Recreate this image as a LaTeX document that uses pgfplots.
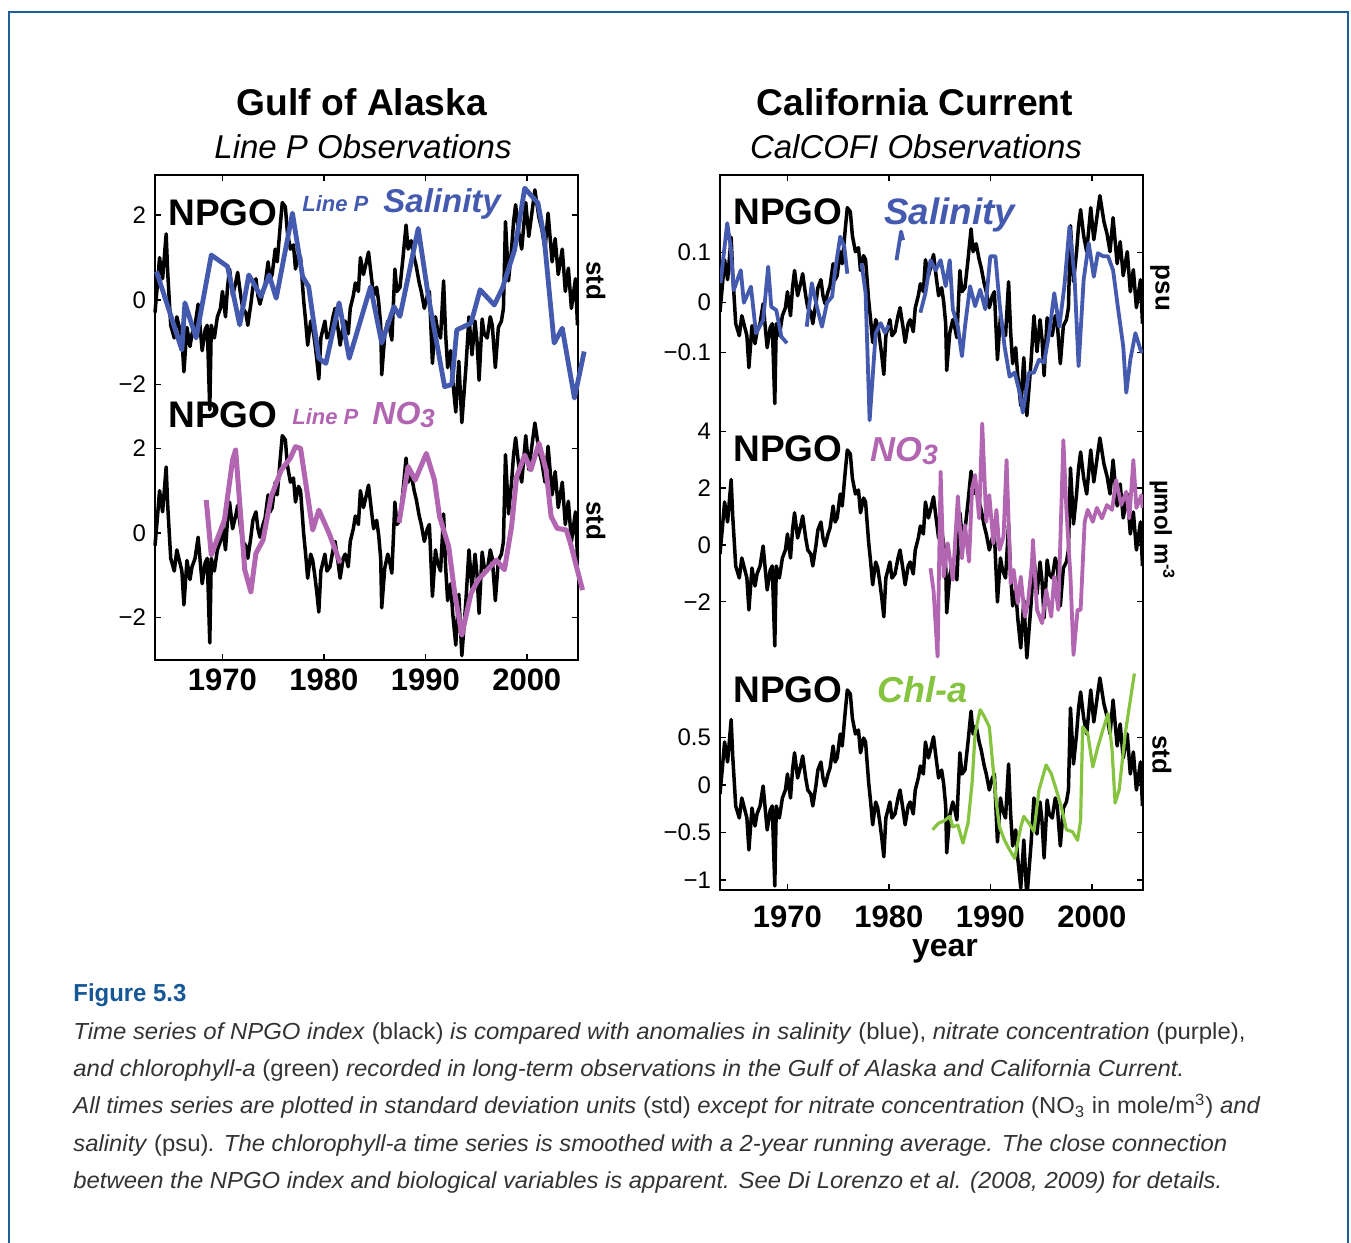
\documentclass[border=0pt]{standalone}
\usepackage{pgfplots}
\usepackage{pgfplotstable}
\usepackage{graphicx}
\usepackage{fontspec}
\setmainfont{Liberation Sans}
\pgfplotsset{compat=1.18}
\definecolor{salblue}{RGB}{68,90,175}
\definecolor{nopink}{RGB}{178,102,178}
\definecolor{chlgreen}{RGB}{134,196,64}
\definecolor{frameblue}{RGB}{30,95,155}
\definecolor{figblue}{RGB}{22,88,150}
\definecolor{capgray}{RGB}{51,51,51}
\newcommand\pp[2]{({(#1)*0.5pt},{(1243-(#2))*0.5pt})}
\newcommand\fs[1]{\fontsize{#1}{#1}\selectfont}

\pgfplotstableread{
x y
1963.35 -0.3
1963.6 0.4
1963.8 1.0
1964.1 0.5
1964.45 1.56
1964.6 0.66
1964.9 -0.6
1965.25 -0.9
1965.5 -0.4
1965.7 -0.6
1966.0 -0.9
1966.2 -1.7
1966.5 -0.65
1966.8 -1.1
1967.0 -0.8
1967.3 -0.6
1967.6 -0.1
1968.0 -1.2
1968.3 -0.7
1968.5 -0.6
1968.75 -2.6
1968.9 -0.6
1969.2 -0.9
1969.5 -0.4
1969.8 -0.2
1970.0 0.2
1970.3 -0.4
1970.5 0.3
1970.7 0.73
1971.0 0.1
1971.3 0.4
1971.5 0.65
1971.8 0.1
1972.0 -0.2
1972.3 -0.3
1972.5 -0.6
1972.8 -0.1
1973.0 0.3
1973.3 0.5
1973.5 0.1
1973.7 -0.1
1974.0 0.2
1974.2 0.35
1974.5 0.9
1974.7 0.5
1974.9 0.6
1975.2 1.2
1975.4 0.9
1975.7 1.77
1975.9 2.3
1976.2 2.2
1976.4 1.6
1976.7 1.2
1977.0 1.3
1977.2 0.73
1977.5 1.1
1977.7 1.0
1978.0 0.0
1978.2 -0.5
1978.4 -1.07
1978.7 -0.5
1978.9 -0.65
1979.1 -1.0
1979.3 -1.4
1979.5 -1.87
1979.7 -0.9
1980.1 -0.5
1980.3 -0.9
1980.6 -0.8
1980.9 -0.4
1981.1 -0.2
1981.4 -0.7
1981.6 -1.07
1981.9 -0.6
1982.1 -0.5
1982.4 -0.8
1982.6 -0.2
1982.9 0.1
1983.1 0.4
1983.4 0.2
1983.6 1.0
1983.9 0.6
1984.1 0.8
1984.4 1.13
1984.7 0.5
1984.9 0.1
1985.2 0.3
1985.4 -0.05
1985.6 -0.6
1985.7 -1.77
1986.0 -0.83
1986.3 -0.5
1986.5 -0.7
1986.7 -0.95
1987.0 0.73
1987.2 0.2
1987.5 0.3
1987.8 1.0
1988.1 1.77
1988.3 1.2
1988.6 1.4
1988.9 1.0
1989.1 0.8
1989.4 0.4
1989.6 0.2
1989.9 -0.2
1990.2 0.1
1990.4 0.2
1990.7 -1.5
1991.0 -0.4
1991.2 -0.7
1991.5 -0.9
1991.8 0.45
1992.0 -0.8
1992.2 -1.6
1992.5 -1.2
1992.7 -1.9
1993.0 -2.65
1993.3 -1.45
1993.6 -2.9
1994.0 -1.6
1994.3 -0.4
1994.6 -1.3
1994.9 -0.5
1995.1 -1.0
1995.3 -1.9
1995.6 -0.45
1995.8 -0.8
1996.1 -0.9
1996.4 -0.4
1996.6 -0.6
1996.9 -1.6
1997.2 -0.65
1997.5 -0.5
1997.7 -0.2
1997.9 1.85
1998.2 0.45
1998.5 1.2
1998.7 1.85
1998.9 2.25
1999.2 1.6
1999.5 1.2
1999.9 2.3
2000.2 1.5
2000.5 2.05
2000.8 2.6
2001.2 1.95
2001.5 1.65
2001.8 1.2
2002.1 2.05
2002.5 0.9
2002.8 1.45
2003.1 0.6
2003.5 1.2
2003.8 0.2
2004.1 0.75
2004.4 -0.2
2004.8 0.5
2005.0 -0.6
}\npgo

% Line P salinity (std)
\pgfplotstableread{
x y
1963.5 0.67
1966.0 -1.18
1966.3 -0.07
1967.4 -0.9
1968.9 1.06
1970.5 0.79
1971.7 -0.59
1972.6 0.59
1973.8 0.08
1974.6 0.59
1975.3 0.04
1976.9 2.05
1977.9 0.55
1978.5 0.31
1979.5 -1.38
1980.2 -1.5
1981.5 -0.07
1982.5 -1.38
1984.6 0.31
1985.7 -1.02
1986.9 -0.16
1987.5 -0.39
1989.3 1.69
1990.3 0.08
1991.9 -2.05
1992.6 -2.0
1993.1 -0.71
1994.5 -0.55
1995.4 0.24
1996.8 -0.12
1997.6 0.28
1998.8 1.18
1999.8 2.64
2001.1 2.29
2001.7 1.5
2002.7 -1.02
2003.5 -0.67
2004.7 -2.32
2005.66 -1.22
}\lpsal

% Line P NO3 (std), two segments
\pgfplotstableread{
x y
1968.4 0.78
1968.9 -0.52
1970.2 0.31
1971.0 1.73
1971.3 1.96
1972.2 -0.87
1972.8 -1.39
1973.3 -0.48
1974.0 -0.17
1974.8 0.86
1975.8 1.49
1976.7 1.77
1977.2 2.04
1977.7 2.0
1978.9 0.07
1979.5 0.54
1980.5 0.0
1981.6 -0.71
}\lpnoA
\pgfplotstableread{
x y
1987.4 0.24
1988.3 1.57
1989.0 1.25
1990.1 1.88
1990.9 1.25
1991.4 0.39
1992.3 -0.32
1992.9 -1.43
1993.6 -2.41
1994.5 -1.43
1995.2 -1.11
1997.0 -0.64
1997.8 -0.87
1998.5 0.15
1999.0 1.33
1999.8 1.84
2000.4 1.49
2001.2 2.12
2001.9 1.49
2002.4 0.39
2003.0 0.11
2003.9 0.07
2004.3 -0.24
2005.5 -1.35
}\lpnoB

% CalCOFI salinity (psu), segments
\pgfplotstableread{
x y
1963.4 0.039
1964.06 0.159
1964.4 0.112
1964.7 0.025
1965.4 0.065
1965.7 0.0
1966.4 0.032
1966.9 -0.061
1967.6 -0.035
1968.1 0.072
1968.4 -0.008
1968.9 -0.015
1969.4 -0.068
1969.95 -0.081
}\ccsalA
\pgfplotstableread{
x y
1971.9 -0.048
1972.4 0.039
1972.9 -0.008
1973.4 -0.048
1973.9 0.0
1974.4 0.012
1974.7 0.065
1975.2 0.132
1975.6 0.112
1975.9 0.058
}\ccsalB
\pgfplotstableread{
x y
1977.3 0.079
1977.7 0.02
1978.1 -0.235
1978.7 -0.061
1979.2 -0.041
1979.6 -0.06
1980.0 -0.045
}\ccsalC
\pgfplotstableread{
x y
1980.75 0.085
1981.2 0.142
1981.4 0.125
}\ccsalD
\pgfplotstableread{
x y
1983.1 -0.02
1983.6 0.019
1984.1 0.085
1984.6 0.065
1985.1 0.085
1985.6 0.033
1986.0 0.085
1986.3 -0.013
1986.8 -0.048
1987.2 -0.107
1987.5 -0.048
1988.0 0.033
1988.5 -0.007
1989.0 0.026
1989.5 -0.013
1990.0 0.093
1990.5 0.093
1990.9 0.0
1991.4 -0.087
1991.9 -0.148
1992.4 -0.14
1992.9 -0.18
1993.2 -0.22
1993.8 -0.14
1994.3 -0.14
1994.8 -0.114
1995.3 -0.12
1995.8 -0.061
1996.3 0.019
1996.8 -0.048
1997.3 0.033
1997.8 0.152
1998.3 0.052
1998.7 -0.127
1999.2 0.046
1999.7 0.119
2000.2 0.052
2000.6 0.099
2001.1 0.093
2001.6 0.093
2002.1 0.065
2002.6 -0.013
2003.1 -0.087
2003.4 -0.18
2003.8 -0.114
2004.3 -0.061
2004.8 -0.094
2005.0 -0.1
}\ccsalE

% CalCOFI NO3 (umol m^-3)
\pgfplotstableread{
x y
1984.1 -0.82
1984.4 -1.6
1984.8 -3.94
1985.1 2.59
1985.4 -1.12
1985.8 0.06
1986.3 -1.23
1986.8 1.72
1987.2 -0.47
1987.5 0.7
1987.9 -0.59
1988.2 2.0
1988.5 2.47
1988.9 0.94
1989.2 4.29
1989.6 0.82
1989.9 1.76
1990.3 0.06
1990.6 1.24
1990.9 -0.17
1991.3 0.3
1991.6 3.0
1992.0 -1.35
1992.3 -0.88
1992.7 -2.06
1993.0 -1.12
1993.4 -2.53
1993.7 -2.06
1994.1 -0.65
1994.2 0.18
1994.6 -2.29
1995.1 -2.76
1995.5 -1.59
1996.0 -2.53
1996.3 -1.12
1996.7 -2.29
1997.2 3.7
1997.5 1.24
1997.9 -1.12
1998.2 -3.88
1998.6 -2.29
1998.9 -2.29
1999.3 0.82
1999.6 1.24
2000.1 0.82
2000.5 1.31
2001.0 0.94
2001.5 1.41
2002.0 1.24
2002.4 2.29
2002.9 1.41
2003.4 1.88
2003.7 0.94
2004.1 3.0
2004.4 1.31
2004.9 1.76
2005.0 1.31
}\ccno

% CalCOFI Chl-a (std)
\pgfplotstableread{
x y
1984.3 -0.47
1984.9 -0.40
1985.4 -0.38
1986.0 -0.33
1986.3 -0.44
1986.8 -0.42
1987.3 -0.61
1987.8 -0.40
1988.2 0.02
1988.5 0.54
1989.0 0.79
1989.4 0.72
1989.9 0.61
1990.2 0.26
1990.6 -0.19
1990.9 -0.44
1991.4 -0.58
1991.9 -0.68
1992.4 -0.77
1993.0 -0.44
1993.3 -0.33
1993.8 -0.40
1994.3 -0.49
1994.8 -0.05
1995.5 0.21
1996.0 0.12
1996.5 -0.05
1997.0 -0.23
1997.5 -0.47
1998.1 -0.49
1998.6 -0.58
1998.9 -0.37
1999.1 0.61
1999.6 0.54
2000.1 0.19
2000.6 0.40
2001.1 0.58
2001.6 0.75
2002.0 0.37
2002.3 -0.19
2002.7 -0.05
2003.3 0.54
2003.9 0.96
2004.2 1.17
}\ccchl

\begin{document}
\begin{tikzpicture}
\useasboundingbox (0,0) rectangle (675.5pt,621.5pt);
\fill[white] (0,0) rectangle (675.5pt,621.5pt);
\draw[frameblue, line width=1.3pt] (4.5pt,-5pt) -- (4.5pt,615.5pt) -- (674pt,615.5pt) -- (674pt,-5pt);

\pgfplotsset{
  mystyle/.style={
    scale only axis,
    xmin=1963.35, xmax=2005.05,
    xtick={1970,1980,1990,2000},
    xticklabels={1970,1980,1990,2000},
    tick align=inside,
    major tick length=3pt,
    every tick/.style={black, line width=0.8pt},
    axis line style={line width=1.2pt},
    xticklabel style={font=\bfseries\fs{15.5}},
    yticklabel style={font=\fs{12}, xshift=-1pt},
  },
  npgoline/.style={black, line width=1.75pt, line join=round},
}

% ---------------- Left: Gulf of Alaska ----------------
\begin{axis}[mystyle,
  at={(77.5pt,291.5pt)}, anchor=south west,
  width=211.5pt, height=242.5pt,
  ymin=-660, ymax=-175,
  ytick={-215.4,-300,-384.6,-448.4,-533,-617.6},
  yticklabels={2,0,−2,2,0,−2},
  xticklabel style={yshift=-1pt},
  clip=false]
\addplot[npgoline] table[x=x, y expr=\thisrow{y}*42.3-300] {\npgo};
\addplot[npgoline] table[x=x, y expr=\thisrow{y}*42.3-533] {\npgo};
\addplot[salblue, line width=2.4pt, line join=round] table[x=x, y expr=\thisrow{y}*42.3-300] {\lpsal};
\addplot[nopink, line width=2.5pt, line join=round] table[x=x, y expr=\thisrow{y}*42.3-533] {\lpnoA};
\addplot[nopink, line width=2.5pt, line join=round] table[x=x, y expr=\thisrow{y}*42.3-533] {\lpnoB};
\end{axis}

% ---------------- Right: California Current ----------------
\begin{axis}[mystyle,
  at={(360pt,176.5pt)}, anchor=south west,
  width=211.5pt, height=357.5pt,
  ymin=-890, ymax=-175,
  ytick={-252.7,-302.7,-352.7,-431.7,-488.3,-545,-601.7,-737.4,-785,-832.7,-880.3},
  yticklabels={0.1,0,−0.1,4,2,0,−2,0.5,0,−0.5,−1},
  xticklabel style={yshift=-4.5pt}]
\addplot[npgoline] table[x=x, y expr=\thisrow{y}*40-299.7] {\npgo};
\addplot[npgoline] table[x=x, y expr=\thisrow{y}*40-542] {\npgo};
\addplot[npgoline] table[x=x, y expr=\thisrow{y}*40-782] {\npgo};
\addplot[salblue, line width=1.9pt, line join=round] table[x=x, y expr=\thisrow{y}*500-302.7] {\ccsalA};
\addplot[salblue, line width=1.9pt, line join=round] table[x=x, y expr=\thisrow{y}*500-302.7] {\ccsalB};
\addplot[salblue, line width=1.9pt, line join=round] table[x=x, y expr=\thisrow{y}*500-302.7] {\ccsalC};
\addplot[salblue, line width=1.9pt, line join=round] table[x=x, y expr=\thisrow{y}*500-302.7] {\ccsalD};
\addplot[salblue, line width=1.9pt, line join=round] table[x=x, y expr=\thisrow{y}*500-302.7] {\ccsalE};
\addplot[nopink, line width=1.9pt, line join=round] table[x=x, y expr=\thisrow{y}*28.33-545] {\ccno};
\addplot[chlgreen, line width=1.6pt, line join=round] table[x=x, y expr=\thisrow{y}*95.3-785] {\ccchl};
\end{axis}

% ---------------- Titles ----------------
\node[anchor=base, inner sep=0] at \pp{362}{116} {\bfseries\fs{18.6}Gulf of Alaska};
\node[anchor=base, inner sep=0] at \pp{363}{159} {\itshape\fs{16.5}Line P Observations};
\node[anchor=base, inner sep=0] at \pp{915}{116} {\bfseries\fs{18.6}California Current};
\node[anchor=base, inner sep=0] at \pp{916}{159} {\itshape\fs{16.5}CalCOFI Observations};

% ---------------- Panel labels ----------------
\node[anchor=base west, inner sep=0] at \pp{168}{226} {\bfseries\fs{18.5}NPGO};
\node[anchor=base west, inner sep=0, text=salblue] at \pp{302}{212} {\bfseries\itshape\fs{11}Line P};
\node[anchor=base west, inner sep=0, text=salblue] at \pp{383}{213} {\bfseries\itshape\fs{16.5}Salinity};
\node[anchor=base west, inner sep=0] at \pp{168}{428} {\bfseries\fs{18.5}NPGO};
\node[anchor=base west, inner sep=0, text=nopink] at \pp{292}{425} {\bfseries\itshape\fs{11}Line P};
\node[anchor=base west, inner sep=0, text=nopink] at \pp{372}{425} {\bfseries\itshape\fs{16}NO\raisebox{-1.5pt}{\fs{13}3}};

\node[anchor=base west, inner sep=0] at \pp{733}{225} {\bfseries\fs{18.5}NPGO};
\node[anchor=base west, inner sep=0, text=salblue] at \pp{884}{225} {\bfseries\itshape\fs{18.4}Salinity};
\node[anchor=base west, inner sep=0] at \pp{733}{462} {\bfseries\fs{18.5}NPGO};
\node[anchor=base west, inner sep=0, text=nopink] at \pp{870}{462} {\bfseries\itshape\fs{17.3}NO\raisebox{-1.5pt}{\fs{14}3}};
\node[anchor=base west, inner sep=0] at \pp{733}{703} {\bfseries\fs{18.5}NPGO};
\node[anchor=base west, inner sep=0, text=chlgreen] at \pp{877}{703} {\bfseries\itshape\fs{18}Chl-a};

% ---------------- Unit labels ----------------
\node[rotate=-90, inner sep=0] at \pp{596}{281} {\bfseries\fs{13}std};
\node[rotate=-90, inner sep=0] at \pp{596}{521} {\bfseries\fs{13}std};
\node[rotate=-90, inner sep=0] at \pp{1160}{288} {\bfseries\fs{13}psu};
\node[rotate=-90, inner sep=0] at \pp{1162}{530} {\bfseries\fs{12}µmol m\textsuperscript{-3}};
\node[rotate=-90, inner sep=0] at \pp{1162}{755} {\bfseries\fs{13}std};
\node[anchor=base, inner sep=0] at \pp{945}{957} {\bfseries\fs{16}year};

% ---------------- Caption ----------------
\node[anchor=base west, inner sep=0, text=figblue] at \pp{73}{1002} {\resizebox{56.5pt}{\height}{\bfseries\fs{12.3}Figure 5.3}};
\begin{scope}[every node/.style={anchor=base west, inner sep=0, text=capgray}]
\node at \pp{73}{1040} {\resizebox{586pt}{\height}{\fs{11.6}\textit{Time series of NPGO index} (black) \textit{is compared with anomalies in salinity} (blue), \textit{nitrate concentration} (purple),}};
\node at \pp{73}{1077} {\resizebox{555.5pt}{\height}{\fs{11.6}\textit{and chlorophyll-a} (green) \textit{recorded in long-term observations in the Gulf of Alaska and California Current.}}};
\node at \pp{73}{1114} {\resizebox{593.5pt}{\height}{\fs{11.6}\textit{All times series are plotted in standard deviation units} (std) \textit{except for nitrate concentration} (NO\textsubscript{3} in mole/m\textsuperscript{3}) \textit{and}}};
\node at \pp{73}{1152} {\resizebox{577pt}{\height}{\fs{11.6}\textit{salinity} (psu)\textit{. The chlorophyll-a time series is smoothed with a 2-year running average. The close connection}}};
\node at \pp{73}{1189} {\resizebox{574.5pt}{\height}{\fs{11.6}\textit{between the NPGO index and biological variables is apparent. See Di Lorenzo et al. (2008, 2009) for details.}}};
\end{scope}
\end{tikzpicture}
\end{document}
